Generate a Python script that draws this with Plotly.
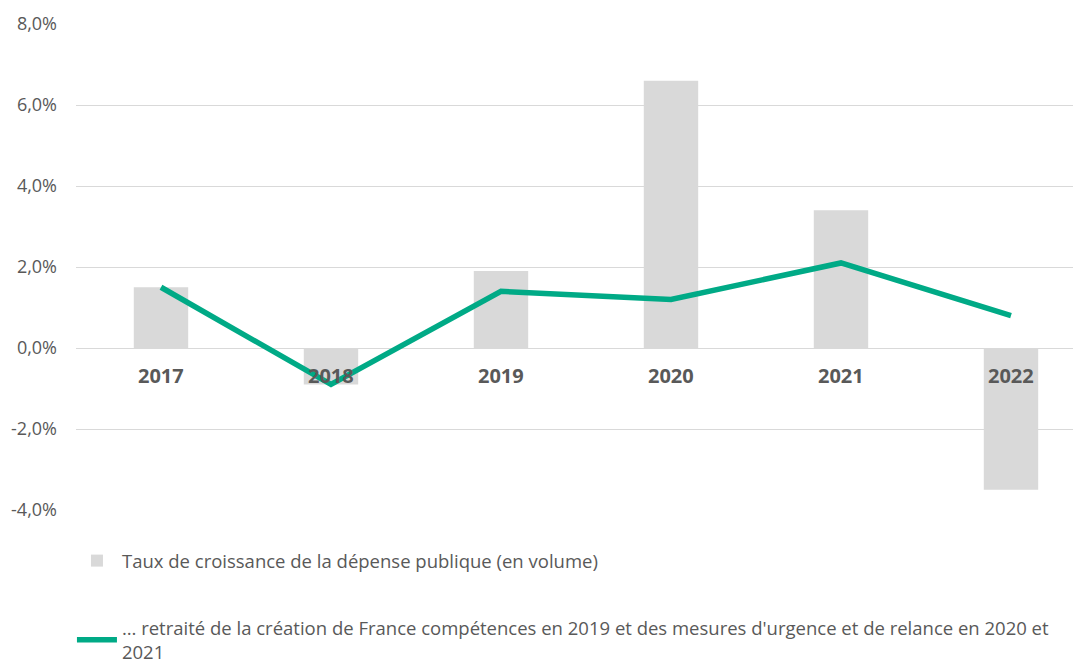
import plotly.graph_objects as go

years = ["2017", "2018", "2019", "2020", "2021", "2022"]
depense = [1.5, -0.9, 1.9, 6.6, 3.4, -3.5]
retraite = [1.5, -0.9, 1.4, 1.2, 2.1, 0.8]
y_ticks = [-4, -2, 0, 2, 4, 6, 8]
y_labels = ["-4,0%", "-2,0%", "0,0%", "2,0%", "4,0%", "6,0%", "8,0%"]

GREY_TXT = "#595959"
FONT = "Open Sans"

fig = go.Figure()
fig.add_trace(go.Bar(
    x=years, y=depense, width=0.32,
    marker=dict(color="#D9D9D9", line=dict(width=0)),
    name="Taux de croissance de la dépense publique (en volume)",
    legendgroup="a",
))
fig.add_trace(go.Scatter(
    x=years, y=retraite, mode="lines",
    line=dict(color="#00AA86", width=5.5),
    name="… retraité de la création de France compétences en 2019 et des mesures d'urgence et de relance en 2020 et<br>2021",
    legendgroup="b",
))

# libellés des années posés sous l'axe zéro
for i, yr in enumerate(years):
    fig.add_annotation(
        x=i, y=0, yanchor="top", yshift=-12, showarrow=False, text=f"<b>{yr}</b>",
        font=dict(family=FONT, size=20, color=GREY_TXT),
    )

fig.update_layout(
    width=1081, height=659,
    margin=dict(l=68, r=1, t=16, b=157, autoexpand=False),
    plot_bgcolor="white", paper_bgcolor="white",
    font=dict(family=FONT, size=18, color=GREY_TXT),
    showlegend=True,
    legend=dict(
        orientation="v", x=-0.004, xanchor="left", y=-0.066, yanchor="top",
        tracegroupgap=40, font=dict(size=18.5, color=GREY_TXT), itemwidth=40,
        traceorder="grouped",
    ),
    xaxis=dict(
        type="category", range=[-0.5, 5.453], showticklabels=False, showgrid=False,
        zeroline=False, showline=False, ticks="", automargin=False,
    ),
    yaxis=dict(
        range=[-4, 8], tickvals=y_ticks, ticktext=y_labels,
        showgrid=True, gridcolor="#D9D9D9", gridwidth=1.3,
        zeroline=True, zerolinecolor="#D9D9D9", zerolinewidth=1.3,
        showline=False, ticks="", ticklabelstandoff=18, automargin=False,
    ),
)

fig.write_html("out.html")
